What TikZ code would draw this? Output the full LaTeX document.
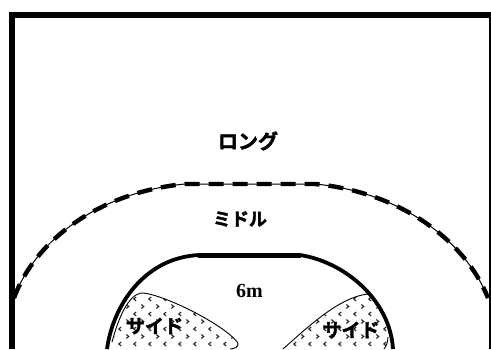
\documentclass[tikz,border=0pt]{standalone}
\usepackage{fontspec}
\setmainfont{Liberation Serif}
\newfontfamily\jpfont[RawFeature={embolden=2}]{Noto Sans CJK JP Bold}
\tikzset{
  px/.style={x=1pt,y=-1pt},
  wall/.style={draw=black,line width=6pt,line cap=butt,line join=miter},
  lab/.style={font=\jpfont\fontsize{#1}{#1}\selectfont,inner sep=0pt,text=black},
  six/.style={font=\bfseries\fontsize{20}{20}\selectfont,inner sep=0pt,text=black},
  arcthick/.style={draw=black,line width=3.8pt},
  blob/.style={draw=black,line width=0.9pt},
  chev/.style={draw=black!85,line width=1.1pt}
}
\newcommand{\chevrows}[2]{%
\foreach \i in {0,...,9}{\foreach \j in {0,...,9}{
  \pgfmathsetmacro{\xa}{#1+\i*15+mod(\j,2)*7.5}
  \pgfmathsetmacro{\ya}{#2+\j*7.5}
  \ifodd\j
    \draw[chev] (\xa-1.2,\ya-2) -- (\xa+1.2,\ya) -- (\xa-1.2,\ya+2);
  \else
    \draw[chev] (\xa+1.2,\ya-2) -- (\xa-1.2,\ya) -- (\xa+1.2,\ya+2);
  \fi
}}}
\begin{document}
\begin{tikzpicture}[px]
\useasboundingbox (0,0) rectangle (491,349);
\clip (0,0) rectangle (491,349);
\fill[white] (0,0) rectangle (491,349);
% hatch fills
\begin{scope}
\clip (112,342) .. controls (118,320) and (128,293) .. (143,293) .. controls (165,295) and (225,325) .. (238,343) .. controls (239,347) and (234,349) .. (230,349) -- (117,349) -- cycle;
\chevrows{105}{299}
\end{scope}
\begin{scope}
\clip (283,349) .. controls (310,325) and (340,297) .. (368,294) .. controls (380,305) and (388,322) .. (388,337) .. controls (388,342) and (386,347) .. (384,349) -- cycle;
\chevrows{280}{299}
\end{scope}
\draw[blob] (112,342) .. controls (118,320) and (128,293) .. (143,293) .. controls (165,295) and (225,325) .. (238,343) .. controls (239,347) and (234,349) .. (230,349);
\draw[blob] (283,349) .. controls (310,325) and (340,297) .. (368,294);
\draw[blob] (388,337) .. controls (388,342) and (386,347) .. (384,349);
% free-throw line
\def\ftpath{(14,298) .. controls (35,240) and (100,192) .. (185,184) -- (315,184) .. controls (400,192) and (465,240) .. (488,298)}
\draw[black,line width=1pt] \ftpath;
\draw[black,line width=4.4pt,dash pattern=on 15pt off 9pt] \ftpath;
% goal area
\draw[arcthick] (107,349) .. controls (113,305) and (145,257) .. (200,255);
\draw[arcthick] (300,255) .. controls (345,262) and (390,300) .. (393,349);
\draw[draw=black,line width=5pt] (198,255) -- (301,255);
% outer walls
\draw[wall] (12,349) -- (12,15) -- (490.5,15);
\draw[draw=black,line width=2pt] (490,15) -- (490,349);
\node[lab=20] (l) at (248,141) {ロング};
\node[lab=18] (m) at (240,219) {ミドル};
\node[six] (s) at (249.5,291) {6m};
\node[lab=19] (a) at (154.5,326) {サイド};
\node[lab=19] (b) at (351,330) {サイド};
\end{tikzpicture}
\end{document}
